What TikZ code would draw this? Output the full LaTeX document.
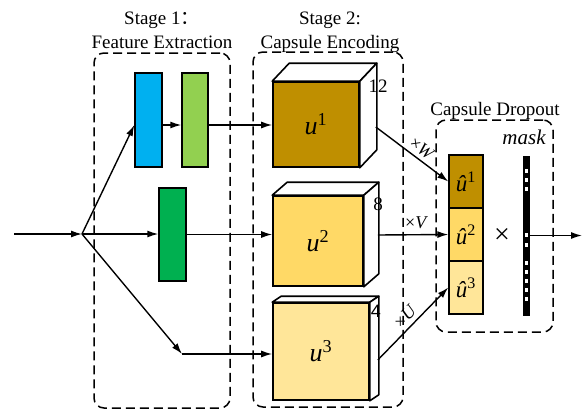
\documentclass[tikz,border=0pt]{standalone}
\usepackage{fontspec}
\setmainfont{Liberation Serif}
\newfontfamily\cjk{Noto Sans CJK SC}
\newfontfamily\lsans{Liberation Sans}
\usetikzlibrary{arrows.meta}
\definecolor{cblue}{HTML}{00B0F0}
\definecolor{clgreen}{HTML}{92D050}
\definecolor{cdgreen}{HTML}{00B050}
\definecolor{cgold}{HTML}{BF8F00}
\definecolor{cyel}{HTML}{FFD966}
\definecolor{clyel}{HTML}{FFE699}
\begin{document}
\begin{tikzpicture}[x=1pt,y=-1pt,
  conn/.style={line width=1.4pt,-{Latex[length=11pt,width=7pt]}},
  blk/.style={draw,line width=1.4pt,inner sep=0pt},
  face/.style={draw,fill=white,line width=1.6pt,line join=round},
  front/.style={draw,line width=1.6pt,inner sep=0pt},
  hatbox/.style={draw,line width=1.4pt,inner sep=0pt,minimum width=34pt,minimum height=53pt,font=\fontsize{23}{25}\selectfont},
  stagebox/.style={draw,dash pattern=on 9pt off 5pt,line width=1.5pt,rounded corners=10pt},
  lbl/.style={inner sep=0pt,font=\fontsize{19}{22}\selectfont},
  elbl/.style={inner sep=0pt,font=\fontsize{18}{20}\selectfont},
  num/.style={inner sep=0pt,font=\fontsize{19}{21}\selectfont}]
\useasboundingbox (0,0) rectangle (582,410);

% dashed stage boxes
\node[stagebox,minimum width=136pt,minimum height=355pt] (s1) at (162,230.5) {};
\node[stagebox,minimum width=150pt,minimum height=355pt] (s2) at (328,229.5) {};
\node[stagebox,minimum width=117pt,minimum height=212pt] (s3) at (494.5,226) {};

% stage labels
\node[lbl,anchor=base west] (t1a) at (124,24) {Stage 1{\cjk ：}};
\node[lbl,anchor=base] (t1b) at (162,48) {Feature Extraction};
\node[lbl,anchor=base] (t2a) at (330,24) {Stage 2:};
\node[lbl,anchor=base] (t2b) at (330,48) {Capsule Encoding};
\node[lbl,anchor=base] (t3) at (495,115) {Capsule Dropout};

% stage 1 blocks
\node[blk,fill=cblue,minimum width=27pt,minimum height=94pt] (blue) at (148.5,120) {};
\node[blk,fill=clgreen,minimum width=26pt,minimum height=94pt] (lgreen) at (195,120) {};
\node[blk,fill=cdgreen,minimum width=27pt,minimum height=93pt] (dgreen) at (172.5,234.5) {};

% cubes
\node[front,fill=cgold,minimum width=86pt,minimum height=85pt] (c1) at (316,124.5) {};
\node[front,fill=cyel,minimum width=90pt,minimum height=90pt] (c2) at (318,241) {};
\node[front,fill=clyel,minimum width=96pt,minimum height=97pt] (c3) at (321,351.5) {};
\draw[face] (c1.north west) -- ++(17,-18) -- ([shift={(17,-18)}]c1.north east) -- (c1.north east) -- cycle;
\draw[face] (c1.north east) -- ++(17,-18) -- ([shift={(17,-18)}]c1.south east) -- (c1.south east) -- cycle;
\draw[face] (c2.north west) -- ++(15,-13) -- ([shift={(15,-13)}]c2.north east) -- (c2.north east) -- cycle;
\draw[face] (c2.north east) -- ++(15,-13) -- ([shift={(15,-13)}]c2.south east) -- (c2.south east) -- cycle;
\draw[face] (c3.north west) -- ++(9,-6) -- ([shift={(9,-6)}]c3.north east) -- (c3.north east) -- cycle;
\draw[face] (c3.north east) -- ++(9,-6) -- ([shift={(9,-6)}]c3.south east) -- (c3.south east) -- cycle;
\node[inner sep=0pt,font=\fontsize{26}{28}\selectfont] (u1) at (c1.center) {\itshape u\textsuperscript{\upshape 1}};
\node[inner sep=0pt,font=\fontsize{26}{28}\selectfont] (u2) at (c2.center) {\itshape u\textsuperscript{\upshape 2}};
\node[inner sep=0pt,font=\fontsize{26}{28}\selectfont] (u3) at (c3.center) {\itshape u\textsuperscript{\upshape 3}};
\node[num] (n12) at (378,86) {12};
\node[num] (n8) at (378,204) {8};
\node[num,font=\lsans\fontsize{18}{20}\selectfont] (n4) at (376,311) {4};

% capsule dropout
\node[hatbox,fill=cgold] (h1) at (466,181.5) {{\itshape\^u}\textsuperscript{1}};
\node[hatbox,fill=cyel] (h2) at (466,234.5) {{\itshape\^u}\textsuperscript{2}};
\node[hatbox,fill=clyel] (h3) at (466,287.5) {{\itshape\^u}\textsuperscript{3}};
\node[inner sep=0pt,font=\fontsize{28}{30}\selectfont] (times) at (502,236) {×};
\node[draw,fill=black,line width=0.5pt,inner sep=0pt,minimum width=6pt,minimum height=159pt] (mask) at (526,235.5) {};
\foreach \yy in {171,180,189,235,245,263,272,281,290,299}
  \fill[white] (524.5,\yy-2) rectangle (527.5,\yy+2);
\node[inner sep=0pt,anchor=base,font=\fontsize{21}{23}\selectfont\itshape] (masklbl) at (524,144) {mask};

% connectors
\coordinate (in) at (14,234);
\coordinate (j) at (82,234);
\coordinate (k) at (182,354);
\coordinate (out) at (582,235.5);
\draw[conn] (in) -- (j);
\draw[conn] (j) -- ([yshift=-5pt]blue.west);
\draw[conn] (j) -- (j -| dgreen.west);
\draw[conn] (j) -- (k);
\draw[conn] (k) -- (k -| c3.west);
\draw[conn] ([yshift=-5pt]blue.east) -- ([yshift=-5pt]lgreen.west);
\draw[conn] ([yshift=-5pt]lgreen.east) -- ([yshift=-5pt]lgreen.east -| c1.west);
\draw[conn] (dgreen.east) -- (dgreen.east -| c2.west);
\draw[conn] ([shift={(16,2.5)}]c1.east) -- node[elbl,above=4pt,sloped,pos=0.55] {×\textit{W}} (h1.west);
\draw[conn] ([shift={(14,-6)}]c2.east) -- node[elbl,above=5pt,pos=0.55] {×\textit{V}} (h2.west);
\draw[conn] ([shift={(8,8.5)}]c3.east) -- node[elbl,above=4pt,sloped,pos=0.5] {×\textit{U}} (h3.west);
\draw[conn] (mask.east) -- (out);
\end{tikzpicture}
\end{document}
